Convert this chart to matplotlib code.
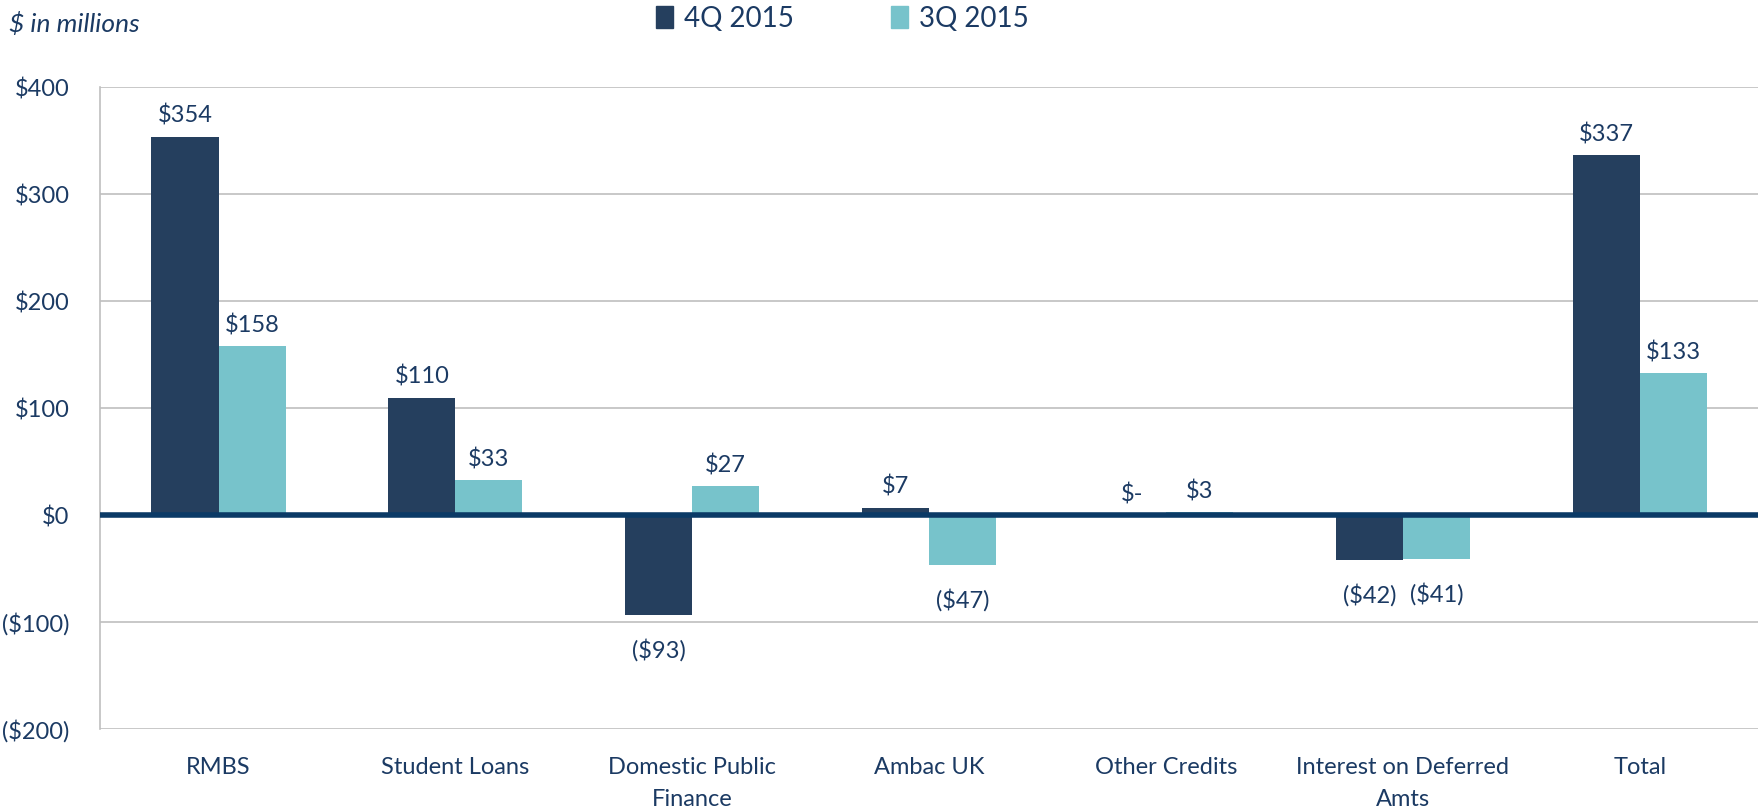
import matplotlib
matplotlib.use("Agg")
import matplotlib.pyplot as plt
import numpy as np
from matplotlib.patches import Patch

categories = ["RMBS", "Student Loans", "Domestic Public\nFinance", "Ambac UK",
              "Other Credits", "Interest on Deferred\nAmts", "Total"]
q4_2015 = [354, 110, -93, 7, 0, -42, 337]
q3_2015 = [158, 33, 27, -47, 3, -41, 133]
series_names = ["4Q 2015", "3Q 2015"]
yticks = [-200, -100, 0, 100, 200, 300, 400]

C_DARK = "#253F5E"
C_LIGHT = "#77C3CB"
C_TEXT = "#1B3A63"
C_ZERO = "#0B3A66"

plt.rcParams['font.family'] = ['Lato', 'DejaVu Sans']

fig = plt.figure(figsize=(17.59, 8.10), dpi=100)
ax = fig.add_axes([0.0569, 0.1, 0.9426, 0.792])

x = np.arange(len(categories))
w = 0.283
b1 = ax.bar(x - w/2, q4_2015, w, color=C_DARK, zorder=3)
b2 = ax.bar(x + w/2, q3_2015, w, color=C_LIGHT, zorder=3)

def fmt(v):
    if v == 0:
        return "$-"
    if v < 0:
        return f"(${-v})"
    return f"${v}"

for bars, vals in ((b1, q4_2015), (b2, q3_2015)):
    for rect, v in zip(bars, vals):
        cx = rect.get_x() + rect.get_width()/2
        if v >= 0:
            ax.annotate(fmt(v), (cx, v), xytext=(0, 7), textcoords="offset points",
                        ha="center", va="bottom", fontsize=17, color=C_TEXT)
        else:
            ax.annotate(fmt(v), (cx, v), xytext=(0, -17), textcoords="offset points",
                        ha="center", va="top", fontsize=17, color=C_TEXT)

ax.set_xlim(-0.5, len(categories) - 0.5)
ax.set_ylim(-200, 400)
ax.set_yticks(yticks)
ax.set_yticklabels([f"${t}" if t >= 0 else f"(${-t})" for t in yticks],
                   fontsize=17, color=C_TEXT)
ax.set_xticks(x)
ax.set_xticklabels(categories, fontsize=17, color=C_TEXT, linespacing=1.65)
ax.tick_params(axis='both', length=0)
ax.tick_params(axis='x', pad=20)
ax.tick_params(axis='y', pad=22)

for t in yticks:
    if t != 0:
        ax.axhline(t, color="#BFBFBF", lw=1.2, zorder=1)
ax.axhline(0, color=C_ZERO, lw=4, zorder=4)

for s in ("top", "right", "bottom"):
    ax.spines[s].set_visible(False)
ax.spines["left"].set_color("#BFBFBF")
ax.spines["left"].set_linewidth(1.2)

handles = [Patch(color=C_DARK), Patch(color=C_LIGHT)]
fig.legend(handles, series_names, loc="center", bbox_to_anchor=(0.479, 0.977),
           ncol=2, frameon=False, fontsize=20, handlelength=0.6, handleheight=0.8,
           handletextpad=0.4, columnspacing=3.5, labelcolor=C_TEXT)

fig.text(0.005, 0.970, "$ in millions", fontsize=19, style="italic", color=C_TEXT,
         ha="left", va="center")

fig.savefig("out.png", dpi=100)
